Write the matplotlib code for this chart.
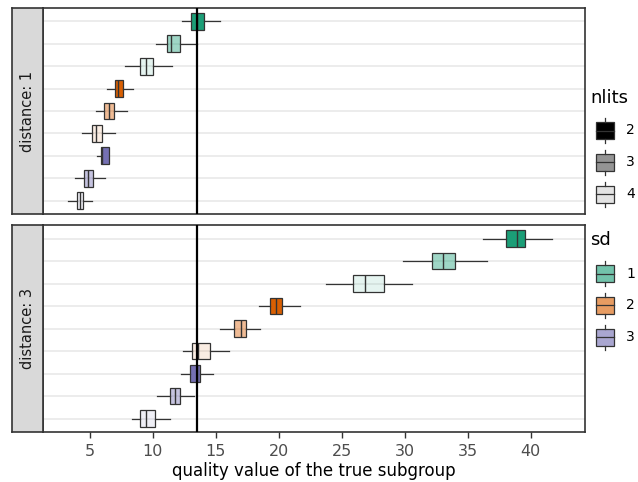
import matplotlib
matplotlib.use("Agg")
import matplotlib.pyplot as plt
from matplotlib.patches import Rectangle

# ---- data ----
groups = ["sd1-n2", "sd1-n3", "sd1-n4", "sd2-n2", "sd2-n3", "sd2-n4", "sd3-n2", "sd3-n3", "sd3-n4"]
group_sd = [1, 1, 1, 2, 2, 2, 3, 3, 3]
group_nlits = [2, 3, 4, 2, 3, 4, 2, 3, 4]

d1_q1 = [13.06, 11.17, 9.00, 7.04, 6.14, 5.16, 5.90, 4.55, 3.99]
d1_med = [13.54, 11.43, 9.50, 7.27, 6.51, 5.53, 6.00, 4.87, 4.23]
d1_q3 = [14.06, 12.17, 10.05, 7.67, 6.96, 5.98, 6.56, 5.26, 4.47]
d1_lo = [12.33, 10.29, 7.83, 6.35, 5.48, 4.39, 5.56, 3.83, 3.31]
d1_hi = [15.30, 13.54, 11.56, 8.44, 7.94, 7.04, 6.56, 6.22, 5.21]

d3_q1 = [38.07, 32.20, 25.93, 19.29, 16.45, 13.15, 12.96, 11.37, 8.97]
d3_med = [38.90, 33.00, 26.85, 19.79, 16.98, 13.63, 13.54, 11.80, 9.50]
d3_q3 = [39.55, 33.99, 28.36, 20.29, 17.44, 14.52, 13.75, 12.17, 10.16]
d3_lo = [36.20, 29.84, 23.78, 18.47, 15.32, 12.38, 12.25, 10.34, 8.39]
d3_hi = [41.70, 36.56, 30.60, 21.69, 18.50, 16.06, 14.81, 13.28, 11.37]

true_quality = 13.5
x_ticks = [5, 10, 15, 20, 25, 30, 35, 40]
sd_levels = [1, 2, 3]
nlits_levels = [2, 3, 4]

# ---- styles ----
sd_colors = {1: "#1b9e77", 2: "#d95f02", 3: "#7570b3"}
nlits_alpha = {2: 1.0, 3: 0.42, 4: 0.11}
edge = "#333333"

W, H = 638, 482
fig = plt.figure(figsize=(W / 100, H / 100), dpi=100)

def fx(px):
    return px / W

def fy(py):
    return 1 - py / H

def blend(c, a):
    r, g, b, _ = matplotlib.colors.to_rgba(c)
    return (1 - a + a * r, 1 - a + a * g, 1 - a + a * b)

panels = [
    ("distance: 1", (8, 214), (d1_q1, d1_med, d1_q3, d1_lo, d1_hi)),
    ("distance: 3", (225, 432), (d3_q1, d3_med, d3_q3, d3_lo, d3_hi)),
]

xl, xr = 43, 585
for i, (label, (ytop, ybot), (q1, med, q3, lo, hi)) in enumerate(panels):
    ax = fig.add_axes([fx(xl), fy(ybot), fx(xr) - fx(xl), fy(ytop) - fy(ybot)])
    pos = list(range(1, len(groups) + 1))
    for p in pos:
        ax.axhline(p, color="#ebebeb", lw=1.3, zorder=0)
    stats = []
    for k in range(len(groups)):
        stats.append(dict(med=med[k], q1=q1[k], q3=q3[k], whislo=lo[k], whishi=hi[k], fliers=[]))
    bp = ax.bxp(stats, positions=pos, vert=False, widths=0.75, showcaps=False,
                showfliers=False, patch_artist=True,
                boxprops=dict(edgecolor=edge, linewidth=0.9),
                whiskerprops=dict(color=edge, linewidth=0.9),
                medianprops=dict(color=edge, linewidth=1.0))
    for k, b in enumerate(bp["boxes"]):
        c = sd_colors[group_sd[k]]
        a = nlits_alpha[group_nlits[k]]
        b.set_facecolor(matplotlib.colors.to_rgba(c, a))
        b.set_zorder(2)
    ax.axvline(true_quality, color="black", lw=1.6, zorder=3)
    ax.set_xlim(1.29, 44.31)
    ax.set_ylim(len(groups) + 0.6, 0.4)
    ax.set_yticks([])
    for s in ax.spines.values():
        s.set_color("#333333")
        s.set_linewidth(1.2)
    if i == 0:
        ax.set_xticks([])
    else:
        ax.set_xticks(x_ticks)
        ax.set_xticklabels([str(t) for t in x_ticks])
        ax.tick_params(axis="x", colors="#333333", length=4, width=1, labelsize=11.5,
                       labelcolor="#4d4d4d", pad=5)
        ax.set_xlabel("quality value of the true subgroup", fontsize=12, color="black", labelpad=2)
    # strip
    sax = fig.add_axes([fx(12), fy(ybot), fx(43) - fx(12), fy(ytop) - fy(ybot)])
    sax.set_facecolor("#d9d9d9")
    sax.set_xticks([])
    sax.set_yticks([])
    for s in sax.spines.values():
        s.set_color("#333333")
        s.set_linewidth(1.2)
    sax.text(0.5, 0.5, label, rotation=90, ha="center", va="center", fontsize=10.5,
             color="#1a1a1a", transform=sax.transAxes)

# ---- legends (drawn in pixel coordinates) ----
lax = fig.add_axes([0, 0, 1, 1], zorder=-1)
lax.set_xlim(0, W)
lax.set_ylim(H, 0)
lax.axis("off")

def key(yc, face):
    x0, x1 = 595.5, 613.5
    h = 16.5
    xm = (x0 + x1) / 2
    lax.plot([xm, xm], [yc - 12.5, yc - h / 2], color=edge, lw=0.9)
    lax.plot([xm, xm], [yc + h / 2, yc + 12.5], color=edge, lw=0.9)
    lax.add_patch(Rectangle((x0, yc - h / 2), x1 - x0, h, facecolor=face, edgecolor=edge, lw=0.9))
    lax.plot([x0, x1], [yc, yc], color=edge, lw=0.9)

lax.text(590, 98, "nlits", fontsize=13, va="center", ha="left", color="black")
for n, yc in zip(nlits_levels, [130.5, 162.3, 194.3]):
    key(yc, blend("black", nlits_alpha[n]))
    lax.text(626, yc, str(n), fontsize=10, va="center", ha="left", color="black")

lax.text(590, 240, "sd", fontsize=13, va="center", ha="left", color="black")
for s, yc in zip(sd_levels, [273.7, 305.3, 337.3]):
    key(yc, blend(sd_colors[s], 0.62))
    lax.text(626, yc, str(s), fontsize=10, va="center", ha="left", color="black")

fig.savefig("out.png", dpi=100)
